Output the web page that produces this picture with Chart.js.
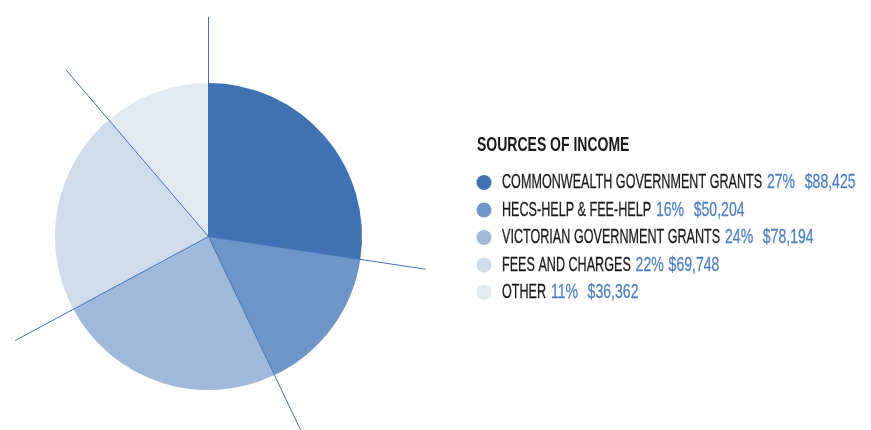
<!DOCTYPE html>
<html>
<head>
<meta charset="utf-8">
<script src="https://cdn.jsdelivr.net/npm/chart.js@4/dist/chart.umd.min.js"></script>
<style>
  html, body { margin: 0; padding: 0; background: #ffffff; }
  #wrap { width: 871px; height: 430px; position: relative; }
</style>
</head>
<body>
<div id="wrap"><canvas id="incomeChart" width="871" height="430"></canvas></div>
<script>
// data
const categories = [
    "COMMONWEALTH GOVERNMENT GRANTS",
    "HECS-HELP & FEE-HELP",
    "VICTORIAN GOVERNMENT GRANTS",
    "FEES AND CHARGES",
    "OTHER"
];
const amounts = [88425, 50204, 78194, 69748, 36362];
const figureLabels = ["27%  $88,425", "16%  $50,204", "24%  $78,194", "22% $69,748", "11%  $36,362"];
const sliceColors = ["#3f71b4", "#6d95c8", "#a0b9da", "#cfdcec", "#e1e9f3"];
const legendTitle = "SOURCES OF INCOME";

const FONT = "'Liberation Sans', Arial, sans-serif";
const ITEM_SCALE = 0.6;
const FIGURE_SCALE = 0.67;
const TITLE_SCALE = 0.70;
const SPACE_W = 4.8;

// thin lines running out from the centre along each slice edge
const leaderLines = {
    id: "leaderLines",
    afterDatasetsDraw(chart) {
        const ctx = chart.ctx;
        const arcs = chart.getDatasetMeta(0).data;
        ctx.save();
        ctx.strokeStyle = "#4472b8";
        ctx.lineWidth = 1;
        arcs.forEach(arc => {
            const len = arc.outerRadius * 1.43;
            ctx.beginPath();
            ctx.moveTo(arc.x, arc.y);
            ctx.lineTo(arc.x + Math.cos(arc.startAngle) * len, arc.y + Math.sin(arc.startAngle) * len);
            ctx.stroke();
        });
        ctx.restore();
    }
};

function drawText(ctx, text, x, y, color, sx, weight) {
    ctx.save();
    ctx.translate(x, y);
    ctx.scale(sx, 1);
    ctx.fillStyle = color;
    ctx.fillText(text, 0, 0);
    if (weight) {
        ctx.strokeStyle = color;
        ctx.lineWidth = weight;
        ctx.strokeText(text, 0, 0);
    }
    const w = ctx.measureText(text).width * sx;
    ctx.restore();
    return w;
}

// legend: black names, blue figures
const sideLegend = {
    id: "sideLegend",
    afterDraw(chart) {
        const ctx = chart.ctx;
        ctx.save();
        ctx.textBaseline = "middle";
        ctx.font = "bold 20px " + FONT;
        drawText(ctx, legendTitle, 477, 145, "#1a1a1a", TITLE_SCALE);
        ctx.font = "21px " + FONT;
        categories.forEach((name, i) => {
            const y = 182.5 + i * 27.5;
            ctx.beginPath();
            ctx.fillStyle = sliceColors[i];
            ctx.arc(484, y, 7.5, 0, Math.PI * 2);
            ctx.fill();
            let x = 502;
            x += drawText(ctx, name, x, y, "#1a1a1a", ITEM_SCALE, 0.3) + SPACE_W;
            figureLabels[i].split(" ").forEach(part => {
                if (part === "") { x += SPACE_W; return; }
                x += drawText(ctx, part, x, y, "#4f7fc2", FIGURE_SCALE, 0.3) + SPACE_W;
            });
        });
        ctx.restore();
    }
};

new Chart(document.getElementById("incomeChart"), {
    type: "pie",
    data: {
        labels: categories,
        datasets: [{
            data: amounts,
            backgroundColor: sliceColors,
            borderWidth: 0
        }]
    },
    options: {
        responsive: false,
        animation: false,
        layout: { padding: { left: 55, top: 83, right: 509, bottom: 40 } },
        plugins: {
            legend: { display: false },
            tooltip: { enabled: false }
        }
    },
    plugins: [leaderLines, sideLegend]
});
</script>
</body>
</html>
